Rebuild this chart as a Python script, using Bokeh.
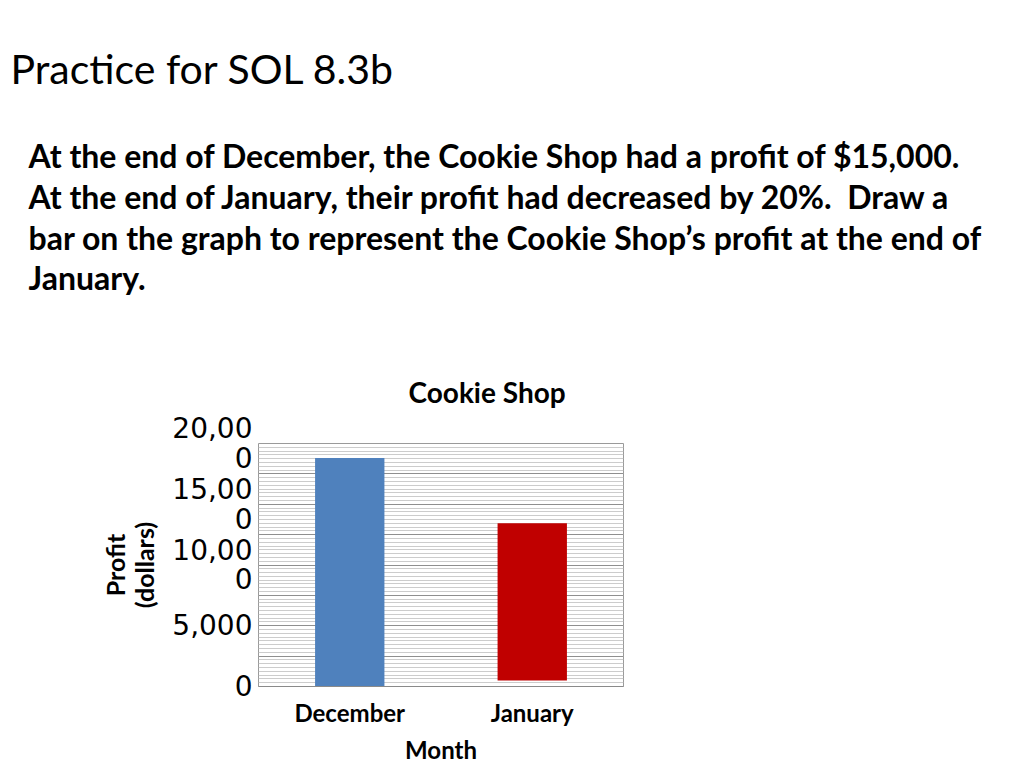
from bokeh.plotting import figure
from bokeh.layouts import column
from bokeh.models import FixedTicker, SingleIntervalTicker, Range1d, FactorRange
from bokeh.core.properties import value
from bokeh.embed import file_html
from bokeh.resources import INLINE

# ---- data ----
months = ["December", "January"]
profit = [18800, 13430]
bottoms = [0, 500]
bar_colors = ["#4F81BD", "#C00000"]
y_ticks = [0, 5000, 10000, 15000, 20000]
y_tick_labels = ["0", "5,000", "10,00\n0", "15,00\n0", "20,00\n0"]

page_title = "Practice for SOL 8.3b"
paragraph = [
    "At the end of December, the Cookie Shop had a profit of $15,000.",
    "At the end of January, their profit had decreased by 20%.\u00a0 Draw a",
    "bar on the graph to represent the Cookie Shop\u2019s profit at the end of",
    "January.",
]

W = 1008
HH = 300          # header height
CH = 466          # chart figure height
# ---- header (slide text) ----
h = figure(width=W, height=HH, x_range=Range1d(0, W), y_range=Range1d(HH, 0),
           output_backend="svg", toolbar_location=None, min_border=0)
h.frame_align = False
h.axis.visible = False
h.grid.visible = False
h.outline_line_color = None
h.text(x=[10], y=[68], text=[page_title], text_font=value("Lato"),
       text_font_size="41px", text_baseline="middle", text_align="left", text_color="black")
h.text(x=[28] * len(paragraph), y=[155 + i * 40.8 for i in range(len(paragraph))],
       text=paragraph, text_font=value("Lato"), text_font_size="32px",
       text_font_style="bold", text_baseline="middle", text_align="left", text_color="black")

# ---- chart ----
FL, FR, FT, FB = 258, 623, 443 - HH, 687 - HH  # frame edges in chart px

p = figure(x_range=FactorRange(*months), y_range=Range1d(0, 20000),
           width=W, height=CH, output_backend="svg", toolbar_location=None,
           min_border_left=FL, min_border_right=W - FR,
           min_border_top=FT, min_border_bottom=CH - FB,
           title="Cookie Shop")
p.frame_align = False
p.background_fill_color = "white"
p.border_fill_color = "white"
p.outline_line_color = "#9a9a9a"

p.title.text_font = "Lato"
p.title.text_font_size = "28px"
p.title.text_font_style = "bold"
p.title.text_color = "black"
p.title.align = "left"
p.title.offset = 150
p.title.standoff = 70

p.vbar(x=months, top=profit, bottom=bottoms, width=0.38, color=bar_colors, line_color=None)

# grid
p.xgrid.grid_line_color = None
p.ygrid.ticker = SingleIntervalTicker(interval=2500, num_minor_ticks=8)
p.ygrid.grid_line_color = "#8f8f8f"
p.ygrid.minor_grid_line_color = "#cccccc"

# y axis
ya = p.yaxis[0]
ya.ticker = FixedTicker(ticks=y_ticks)
ya.major_label_overrides = {t: l for t, l in zip(y_ticks, y_tick_labels)}
ya.axis_line_color = None
ya.major_tick_line_color = None
ya.minor_tick_line_color = None
ya.major_tick_out = 0
ya.major_label_standoff = 6
ya.major_label_text_font = "DejaVu Sans"
ya.major_label_text_font_size = "28px"
ya.major_label_text_color = "black"
ya.major_label_text_line_height = 0.9
ya.axis_label = "Profit\n(dollars)"
ya.axis_label_text_font = "Lato"
ya.axis_label_text_font_size = "25px"
ya.axis_label_text_font_style = "bold"
ya.axis_label_text_color = "black"
ya.axis_label_text_line_height = 0.97
ya.axis_label_standoff = 10

# x axis
xa = p.xaxis[0]
xa.axis_line_color = "#8a8a8a"
xa.major_tick_line_color = None
xa.major_tick_out = 0
xa.major_label_standoff = 11
xa.major_label_text_font = "Lato"
xa.major_label_text_font_size = "24px"
xa.major_label_text_font_style = "bold"
xa.major_label_text_color = "black"
xa.axis_label = "Month"
xa.axis_label_text_font = "Lato"
xa.axis_label_text_font_size = "24px"
xa.axis_label_text_font_style = "bold"
xa.axis_label_text_color = "black"
xa.axis_label_standoff = 5

page = column(h, p, spacing=0)
open("out.html", "w").write(file_html(page, INLINE))
